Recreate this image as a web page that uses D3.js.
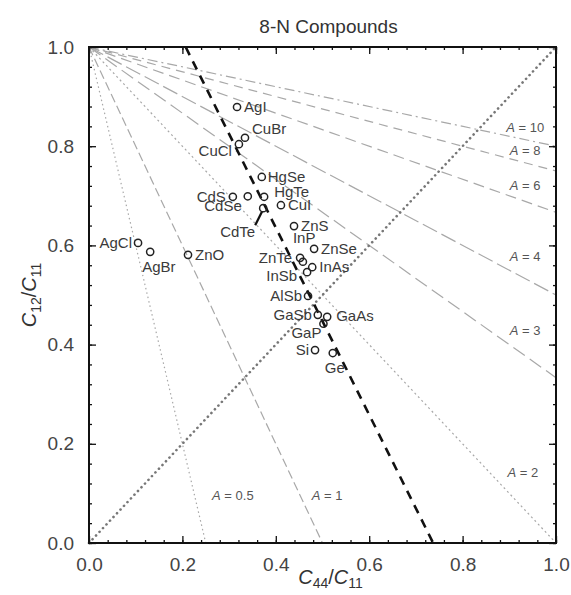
<!DOCTYPE html>
<html>
<head>
<meta charset="utf-8">
<script src="https://cdn.jsdelivr.net/npm/d3@7"></script>
<style>
  body { margin: 0; background: #fff; overflow: hidden; }
  svg { display: block; }
  svg text { font-family: "Liberation Sans", Arial, sans-serif; fill: #333; }
  .axis path { display: none; }
  .axis line { stroke: #111; stroke-width: 1.3; }
  .axis text { font-size: 19px; fill: #444; }
</style>
</head>
<body>
<div id="chart"></div>
<script>
// compounds and their elastic-constant ratios
var compounds = ['AgI', 'CuBr', 'CuCl', 'HgSe', 'CdS', 'CdSe', 'HgTe', 'CdTe', 'CuI', 'ZnS',
                 'InP', 'ZnSe', 'ZnTe', 'InSb', 'InAs', 'AlSb', 'GaSb', 'GaAs', 'GaP', 'Si', 'Ge',
                 'AgCl', 'AgBr', 'ZnO'];
var c44c11 = [0.317, 0.334, 0.321, 0.370, 0.308, 0.340, 0.375, 0.373, 0.411, 0.439,
              0.458, 0.482, 0.452, 0.467, 0.478, 0.469, 0.490, 0.510, 0.502, 0.484, 0.522,
              0.105, 0.131, 0.212];
var c12c11 = [0.879, 0.817, 0.804, 0.738, 0.698, 0.699, 0.698, 0.675, 0.681, 0.639,
              0.567, 0.593, 0.575, 0.546, 0.556, 0.498, 0.460, 0.456, 0.442, 0.389, 0.383,
              0.605, 0.587, 0.581];

// iso-anisotropy lines, A = 2 C44 / (C11 - C12)
var anisotropy = [0.5, 1, 2, 3, 4, 6, 8, 10];
var aLabelX = [0.308, 0.510, 0.929, 0.934, 0.934, 0.934, 0.934, 0.934];
var aLabelY = [0.097, 0.097, 0.143, 0.429, 0.579, 0.722, 0.792, 0.839];

// heavy dashed boundary line
var boundaryX = [0.207, 0.737];
var boundaryY = [1.0, 0.0];

var tickValues = [0, 0.2, 0.4, 0.6, 0.8, 1.0];

var outerWidth = 571;
var outerHeight = 595;
var margin = { left: 89, top: 47, right: 15, bottom: 52 };
var innerWidth = outerWidth - margin.left - margin.right;
var innerHeight = outerHeight - margin.top - margin.bottom;

// label placement for each compound: [dx, dy, anchor]
var labelPos = {
  AgI: [7, 5, 'start'], CuBr: [7, -4, 'start'], CuCl: [-7, 12, 'end'], HgSe: [6, 5, 'start'],
  CdS: [-7, 5, 'end'], CdSe: [-6, 15, 'end'], HgTe: [10, 0, 'start'], CdTe: [-8, 29, 'end'],
  CuI: [7, 5, 'start'], ZnS: [7, 5, 'start'], InP: [-10, -19, 'start'], ZnSe: [7, 5, 'start'],
  ZnTe: [-8, 5, 'end'], InSb: [-10, 9, 'end'], InAs: [7, 5, 'start'], AlSb: [-6, 5, 'end'],
  GaSb: [-6, 5, 'end'], GaAs: [9, 4, 'start'], GaP: [-2, 14, 'end'], Si: [-6, 5, 'end'],
  Ge: [2, 20, 'middle'], AgCl: [-6, 5, 'end'], AgBr: [-8, 20, 'start'], ZnO: [7, 5, 'start']
};
var aDash = ['1.5,3', '9,4', '2,3', '14,6', '16,5', '11,6', '9,6', '10,4,2,4'];

var svg = d3.select('#chart').append('svg')
    .attr('width', outerWidth)
    .attr('height', outerHeight);

var g = svg.append('g')
    .attr('transform', 'translate(' + margin.left + ',' + margin.top + ')');

var xScale = d3.scaleLinear().domain([0, 1]).range([0, innerWidth]);
var yScale = d3.scaleLinear().domain([0, 1]).range([innerHeight, 0]);

var line = d3.line()
    .x(function(d) { return xScale(d[0]); })
    .y(function(d) { return yScale(d[1]); });

// A lines, all start at (0,1)
anisotropy.forEach(function(a, i) {
    var end = a <= 2 ? [a / 2, 0] : [1, 1 - 2 / a];
    g.append('path')
        .attr('d', line([[0, 1], end]))
        .attr('fill', 'none')
        .attr('stroke', '#a8a8a8')
        .attr('stroke-width', 1.2)
        .attr('stroke-dasharray', aDash[i]);

    var t = g.append('text')
        .attr('x', xScale(aLabelX[i]))
        .attr('y', yScale(aLabelY[i]) + 5)
        .attr('text-anchor', 'middle')
        .style('font-size', '13px')
        .style('fill', '#555');
    t.append('tspan').style('font-style', 'italic').text('A');
    t.append('tspan').text(' = ' + a);
});

// Cauchy line C12 = C44
g.append('path')
    .attr('d', line([[0, 0], [1, 1]]))
    .attr('fill', 'none')
    .attr('stroke', '#777')
    .attr('stroke-width', 2.6)
    .attr('stroke-linecap', 'round')
    .attr('stroke-dasharray', '0.1,5');

g.append('path')
    .attr('d', line(boundaryX.map(function(x, i) { return [x, boundaryY[i]]; })))
    .attr('fill', 'none')
    .attr('stroke', '#111')
    .attr('stroke-width', 2.6)
    .attr('stroke-dasharray', '9,7');

// CdTe leader
var cdTe = compounds.indexOf('CdTe');
g.append('line')
    .attr('x1', xScale(c44c11[cdTe]) - 8)
    .attr('y1', yScale(c12c11[cdTe]) + 17)
    .attr('x2', xScale(c44c11[cdTe]) - 1)
    .attr('y2', yScale(c12c11[cdTe]) + 3)
    .attr('stroke', '#111')
    .attr('stroke-width', 2.2);

// points
g.selectAll('circle.pt').data(compounds).enter().append('circle')
    .attr('class', 'pt')
    .attr('cx', function(d, i) { return xScale(c44c11[i]); })
    .attr('cy', function(d, i) { return yScale(c12c11[i]); })
    .attr('r', 3.6)
    .attr('fill', 'none')
    .attr('stroke', '#222')
    .attr('stroke-width', 1.5);

g.selectAll('text.pt-label').data(compounds).enter().append('text')
    .attr('class', 'pt-label')
    .attr('x', function(d, i) { return xScale(c44c11[i]) + labelPos[d][0]; })
    .attr('y', function(d, i) { return yScale(c12c11[i]) + labelPos[d][1]; })
    .attr('text-anchor', function(d) { return labelPos[d][2]; })
    .style('font-size', '15px')
    .style('fill', '#3a3a3a')
    .text(function(d) { return d; });

// axes with inward ticks on all four sides
var minorTicks = d3.range(0, 1.0001, 0.04);

function scaleFor(axisFn) {
    return (axisFn === d3.axisBottom || axisFn === d3.axisTop) ? xScale : yScale;
}

function addAxis(axisFn, transform, showLabels) {
    g.append('g').attr('class', 'axis').attr('transform', transform)
        .call(axisFn(scaleFor(axisFn)).tickValues(minorTicks).tickSize(-3))
        .selectAll('text').remove();
    var major = g.append('g').attr('class', 'axis').attr('transform', transform)
        .call(axisFn(scaleFor(axisFn)).tickValues(tickValues).tickSize(-7).tickPadding(15)
            .tickFormat(d3.format('.1f')));
    if (!showLabels) {
        major.selectAll('text').remove();
    }
}

addAxis(d3.axisBottom, 'translate(0,' + innerHeight + ')', true);
addAxis(d3.axisLeft, 'translate(0,0)', true);
addAxis(d3.axisTop, 'translate(0,0)', false);
addAxis(d3.axisRight, 'translate(' + innerWidth + ',0)', false);

g.append('rect')
    .attr('width', innerWidth)
    .attr('height', innerHeight)
    .attr('fill', 'none')
    .attr('stroke', '#111')
    .attr('stroke-width', 2);

// title and axis titles
svg.append('text')
    .attr('x', margin.left + innerWidth / 2 + 6)
    .attr('y', 33)
    .attr('text-anchor', 'middle')
    .style('font-size', '19px')
    .text('8-N Compounds');

var xt = svg.append('text')
    .attr('x', margin.left + innerWidth / 2 + 8)
    .attr('y', 584)
    .attr('text-anchor', 'middle')
    .style('font-size', '20px');
xt.append('tspan').style('font-style', 'italic').text('C');
xt.append('tspan').attr('dy', 4).style('font-size', '14px').text('44');
xt.append('tspan').attr('dy', -4).text('/');
xt.append('tspan').style('font-style', 'italic').text('C');
xt.append('tspan').attr('dy', 4).style('font-size', '14px').text('11');

var yt = svg.append('text')
    .attr('transform', 'translate(36,' + (margin.top + innerHeight / 2) + ') rotate(-90)')
    .attr('text-anchor', 'middle')
    .style('font-size', '20px');
yt.append('tspan').style('font-style', 'italic').text('C');
yt.append('tspan').attr('dy', 5).style('font-size', '14px').text('12');
yt.append('tspan').attr('dy', -5).text('/');
yt.append('tspan').style('font-style', 'italic').text('C');
yt.append('tspan').attr('dy', 5).style('font-size', '14px').text('11');
</script>
</body>
</html>
